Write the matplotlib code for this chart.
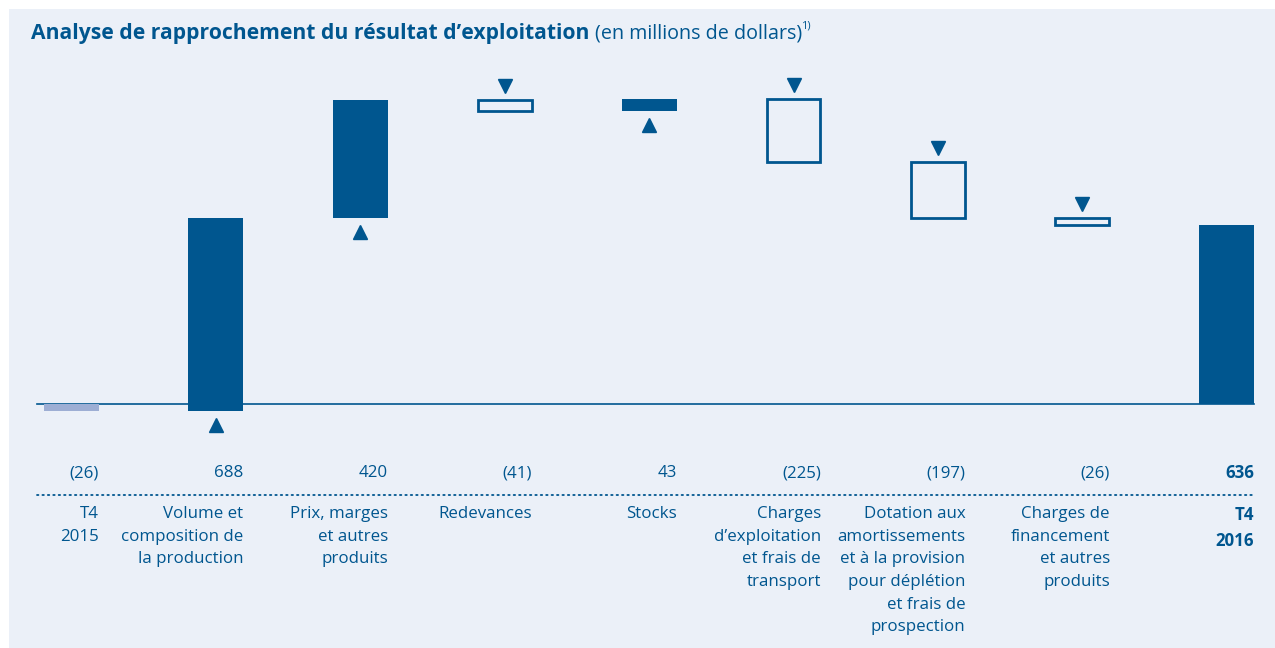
import matplotlib
matplotlib.use("Agg")
import matplotlib.pyplot as plt
from matplotlib.patches import Rectangle
from matplotlib.transforms import blended_transform_factory

plt.rcParams['font.family'] = ['Open Sans', 'DejaVu Sans']

categories = ["T4\n2015", "Volume et\ncomposition de\nla production", "Prix, marges\net autres\nproduits",
              "Redevances", "Stocks", "Charges\nd\u2019exploitation\net frais de\ntransport",
              "Dotation aux\namortissements\net \u00e0 la provision\npour d\u00e9pl\u00e9tion\net frais de\nprospection",
              "Charges de\nfinancement\net autres\nproduits", "T4\n2016"]
values = [-26, 688, 420, -41, 43, -225, -197, -26, 636]
value_labels = ["(26)", "688", "420", "(41)", "43", "(225)", "(197)", "(26)", "636"]
kinds = ["start", "delta", "delta", "delta", "delta", "delta", "delta", "delta", "total"]

DARK = "#00568F"
LIGHT = "#9DAED4"
BG = "#EBF0F8"

W, H = 1275, 648
fig = plt.figure(figsize=(W / 100, H / 100), dpi=100)
fig.patch.set_facecolor("white")
fig.patches.append(Rectangle((9 / W, 0), 1 - 9 / W, 1 - 9 / H, transform=fig.transFigure,
                             facecolor=BG, edgecolor="none", zorder=-10))

ax = fig.add_axes([0, 0, 1, 1])
ax.set_zorder(5)
ax.set_facecolor("none")
ppu = 0.2814  # px per unit
zero_px = 404
x0_px, step_px = 71.5, 144.4
ax.set_ylim(-(H - zero_px) / ppu, zero_px / ppu)
ax.set_xlim(-x0_px / step_px, (W - x0_px) / step_px)
ax.axis("off")

bw = 55 / step_px
half = bw / 2
tri_gap = 14 / ppu

running = 0
for i, (v, k) in enumerate(zip(values, kinds)):
    if k == "start":
        ax.bar(i, v, width=bw, bottom=0, color=LIGHT, zorder=2)
        running = v
    elif k == "total":
        ax.bar(i, v, width=bw, bottom=0, color=DARK, zorder=2)
    else:
        new = running + v
        if v > 0:
            ax.bar(i, v, width=bw, bottom=running, color=DARK, zorder=2)
            ax.plot(i, running - tri_gap, marker="^", color=DARK, markersize=10.5, zorder=3)
        else:
            ax.bar(i, -v, width=bw * 0.975, bottom=new, facecolor="none", edgecolor=DARK,
                   linewidth=2.0, zorder=2)
            ax.plot(i, running + tri_gap, marker="v", color=DARK, markersize=10.5, zorder=3)
        running = new

# zero line
ax.plot([-0.24, 8.19], [0, 0], color=DARK, linewidth=1.2, zorder=1)

tr = blended_transform_factory(ax.transData, fig.transFigure)
for i, (lab, cat) in enumerate(zip(value_labels, categories)):
    bold = (i == len(categories) - 1)
    ax.text(i + half, 1 - 473 / H, lab, transform=tr, ha="right", va="center",
            fontsize=12.2, color=DARK, fontweight="bold" if bold else "normal")
    ax.text(i + half, 1 - 506 / H, cat, transform=tr, ha="right", va="top",
            fontsize=12.2, color=DARK, linespacing=1.555,
            fontweight="bold" if bold else "normal")

# dotted separator
ax.plot([-0.24, 8.19], [1 - 495 / H] * 2, transform=tr, color=DARK, linewidth=1.3,
        linestyle=(0, (0.8, 2.2)), dash_capstyle="round")

# title
t1 = fig.text(31 / W, 1 - 33 / H, "Analyse de rapprochement du r\u00e9sultat d\u2019exploitation",
              fontsize=15.2, fontweight="bold", color=DARK, va="center", ha="left")
fig.canvas.draw()
bb = t1.get_window_extent()
t2 = fig.text(bb.x1 / W + 6 / W, 1 - 33 / H, "(en millions de dollars)", fontsize=14.2,
              color=DARK, va="center", ha="left")
fig.canvas.draw()
bb2 = t2.get_window_extent()
fig.text(bb2.x1 / W - 2 / W, 1 - 26 / H, "1)", fontsize=8, color=DARK, va="center", ha="left")

fig.savefig("out.png", dpi=100, facecolor="white")
